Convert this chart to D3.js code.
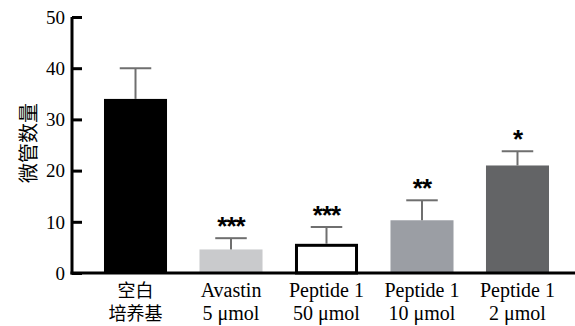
<!DOCTYPE html>
<html>
<head>
<meta charset="utf-8">
<script src="https://cdn.jsdelivr.net/npm/d3@7"></script>
<style>
  body { margin: 0; background: #fff; }
  svg { display: block; }
</style>
</head>
<body>
<svg width="575" height="326"></svg>
<script>
// chart data
var categories = ["blank", "avastin", "p50", "p10", "p2"];
var labelLines = [["空白", "培养基"], ["Avastin", "5 μmol"], ["Peptide 1", "50 μmol"], ["Peptide 1", "10 μmol"], ["Peptide 1", "2 μmol"]];
var means = [34, 4.6, 5.7, 10.3, 21];
var errors = [6, 2.2, 3.3, 3.9, 2.8];
var stars = ["", "***", "***", "**", "*"];
var fills = ["#000000", "#c9cacc", "#ffffff", "#9b9ea4", "#636466"];
var yTicks = [0, 10, 20, 30, 40, 50];

var SERIF = "'Liberation Serif'";
var CJK = "'Noto Sans CJK SC'";

var svg = d3.select("svg");

var x = d3.scaleBand().domain(categories).range([72, 581]).paddingInner(0.34).paddingOuter(0.335);
var y = d3.scaleLinear().domain([0, 50]).range([273, 17]);

var data = categories.map(function (c, i) {
    return { key: c, mean: means[i], err: errors[i], star: stars[i], fill: fills[i], lines: labelLines[i] };
});

// bars
svg.selectAll(".bar")
  .data(data)
  .enter().append("rect")
    .attr("class", "bar")
    .attr("x", function (d) { return d.fill == "#ffffff" ? x(d.key) + 1.5 : x(d.key); })
    .attr("y", function (d) { return d.fill == "#ffffff" ? y(d.mean) + 1.5 : y(d.mean); })
    .attr("width", function (d) { return d.fill == "#ffffff" ? x.bandwidth() - 3 : x.bandwidth(); })
    .attr("height", function (d) { return y(0) - y(d.mean) - (d.fill == "#ffffff" ? 1.5 : 0); })
    .style("fill", function (d) { return d.fill; })
    .style("stroke", function (d) { return d.fill == "#ffffff" ? "#000" : "none"; })
    .style("stroke-width", 3);

// error bars
var eb = svg.selectAll(".err")
  .data(data)
  .enter().append("g")
    .attr("class", "err")
    .attr("transform", function (d) { return "translate(" + (x(d.key) + x.bandwidth() / 2) + ",0)"; });

eb.append("line")
    .attr("x1", 0).attr("x2", 0)
    .attr("y1", function (d) { return y(d.mean); })
    .attr("y2", function (d) { return y(d.mean + d.err); })
    .style("stroke", "#6f6f6f").style("stroke-width", 2);

eb.append("line")
    .attr("x1", -x.bandwidth() / 4).attr("x2", x.bandwidth() / 4)
    .attr("y1", function (d) { return y(d.mean + d.err); })
    .attr("y2", function (d) { return y(d.mean + d.err); })
    .style("stroke", "#6f6f6f").style("stroke-width", 2);

// significance stars
eb.append("text")
    .attr("x", 0)
    .attr("y", function (d) { return y(d.mean + d.err) - 3; })
    .attr("text-anchor", "middle")
    .style("font-family", "'Liberation Sans'")
    .style("font-weight", "bold")
    .style("font-size", "26px")
    .style("letter-spacing", "-1px")
    .text(function (d) { return d.star; });

// y axis
var yAxis = svg.append("g")
    .attr("transform", "translate(72,0)")
    .call(d3.axisLeft(y).tickValues(yTicks).tickSize(-10).tickSizeOuter(0));
yAxis.select(".domain").style("stroke-width", 3).attr("d", "M0," + (y(0) + 1.5) + "V" + y(50));
yAxis.selectAll(".tick line").style("stroke-width", 3);
yAxis.selectAll(".tick text")
    .style("font-family", SERIF)
    .style("font-size", "19px")
    .attr("dy", "0.33em")
    .attr("x", -7);

// x axis
var xAxis = svg.append("g")
    .attr("transform", "translate(0," + y(0) + ")")
    .call(d3.axisBottom(x).tickSize(0).tickFormat(""));
xAxis.select(".domain").style("stroke-width", 3).attr("d", "M70.5,0H575");

// category labels, one text per line
var lab = svg.selectAll(".cat")
  .data(data)
  .enter().append("g")
    .attr("class", "cat")
    .attr("transform", function (d) { return "translate(" + (x(d.key) + x.bandwidth() / 2) + ",0)"; });

lab.selectAll("text")
  .data(function (d, i) { return d.lines.map(function (t) { return { t: t, cjk: i == 0 }; }); })
  .enter().append("text")
    .attr("text-anchor", "middle")
    .attr("x", 0)
    .attr("y", function (d, i) { return i == 0 ? 297 : 320; })
    .style("font-family", function (d) { return d.cjk ? CJK : SERIF; })
    .style("font-size", function (d) { return d.cjk ? "18px" : "20px"; })
    .text(function (d) { return d.t; });

// y axis title
svg.append("text")
    .attr("transform", "translate(36,143) rotate(-90)")
    .attr("text-anchor", "middle")
    .style("font-family", CJK)
    .style("font-size", "20px")
    .text("微管数量");
</script>
</body>
</html>
